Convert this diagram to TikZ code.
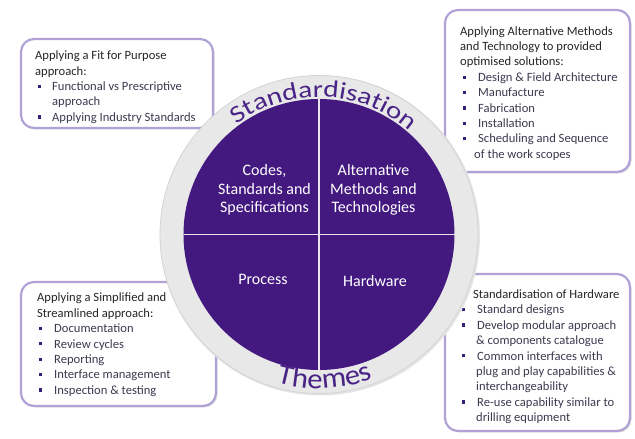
\documentclass[tikz,border=0pt]{standalone}
\usepackage{fontspec}
\setmainfont{Carlito}
\newfontfamily\arcfontA[FakeStretch=1.22]{Carlito}
\newfontfamily\arcfontB[FakeStretch=1.08]{Carlito}
\usetikzlibrary{decorations.text}
\definecolor{purp}{HTML}{43187F}
\definecolor{arctext}{HTML}{4A2386}
\definecolor{ringgray}{HTML}{E8E8E8}
\definecolor{ringedge}{HTML}{D4D4D4}
\definecolor{boxedge}{HTML}{B0A2D6}
\definecolor{headc}{HTML}{262626}
\definecolor{itemc}{HTML}{3B3B50}
\definecolor{bulc}{HTML}{3A1F7A}
\newcommand\bl[2]{\hspace*{#1}\makebox[#2][l]{\textcolor{bulc}{\rule[2.6pt]{3.2pt}{3.2pt}}}}
\begin{document}
\begin{tikzpicture}[x=1pt,y=1pt,
  infobox/.style={draw=boxedge, line width=2.2pt, rounded corners=13pt, fill=white},
  boxshadow/.style={fill=black!30, rounded corners=13pt, opacity=0.45},
  boxtext/.style={anchor=north west, inner sep=0pt, align=left, font=\fontsize{12.6}{15.4}\selectfont, text=itemc},
  themetext/.style={align=center, text=white, font=\fontsize{16}{18.3}\selectfont, inner sep=0pt},
  arcdeco/.style={decorate, decoration={text along path, text align=center, text color=arctext, text={#1}}}
]
\useasboundingbox (0,0) rectangle (635,439);
\fill[white] (0,0) rectangle (635,439);

% boxes
\fill[boxshadow] (22.5,309.5) rectangle (214.5,398.5);
\draw[infobox] (21,311) rectangle (213,400);
\fill[boxshadow] (446.5,265.5) rectangle (631.5,427.5);
\draw[infobox] (445,267) rectangle (630,429);
\fill[boxshadow] (22.5,31.5) rectangle (217.5,155.5);
\draw[infobox] (21,33) rectangle (216,157);
\fill[boxshadow] (446.5,6.5) rectangle (631.5,163.5);
\draw[infobox] (445,8) rectangle (630,165);

\node[boxtext] (tltext) at (35,389.5) {\rule{0pt}{10pt}\textcolor{headc}{Applying a Fit for Purpose}\\
\textcolor{headc}{approach:}\\
\bl{3pt}{14pt}Functional vs Prescriptive\\
\hspace*{17pt}approach\\
\bl{3pt}{14pt}Applying Industry Standards};

\node[boxtext] (trtext) at (460,414) {\rule{0pt}{10pt}\textcolor{headc}{Applying Alternative Methods}\\
\textcolor{headc}{and Technology to provided}\\
\textcolor{headc}{optimised solutions:}\\
\bl{3pt}{15pt}Design \& Field Architecture\\
\bl{3pt}{15pt}Manufacture\\
\bl{3pt}{15pt}Fabrication\\
\bl{3pt}{15pt}Installation\\
\bl{3pt}{15pt}Scheduling and Sequence\\
\hspace*{14pt}of the work scopes};

\node[boxtext] (bltext) at (37,147.3) {\rule{0pt}{10pt}\textcolor{headc}{Applying a Simplified and}\\
\textcolor{headc}{Streamlined approach:}\\
\bl{2pt}{15pt}Documentation\\
\bl{2pt}{15pt}Review cycles\\
\bl{2pt}{15pt}Reporting\\
\bl{2pt}{15pt}Interface management\\
\bl{2pt}{15pt}Inspection \& testing};

\node[boxtext] (brtext) at (462,150.7) {\rule{0pt}{10pt}\hspace*{11pt}\textcolor{headc}{Standardisation of Hardware}\\
\bl{0pt}{15pt}Standard designs\\
\bl{0pt}{15pt}Develop modular approach\\
\hspace*{14pt}\& components catalogue\\
\bl{0pt}{15pt}Common interfaces with\\
\hspace*{14pt}plug and play capabilities \&\\
\hspace*{14pt}interchangeability\\
\bl{0pt}{15pt}Re-use capability similar to\\
\hspace*{14pt}drilling equipment};

% circle
\coordinate (c) at (319,204.5);
\fill[black!10] (c) ++(1,-1) circle[radius=160];
\draw[ringedge, fill=ringgray, line width=0.8pt] (c) circle[radius=159];
\fill[purp] (c) circle[radius=135.5];
\draw[white!88!purp, line width=1.8pt] (c) ++(0,135.5) -- ++(0,-271);
\draw[white!88!purp, line width=1.8pt] (c) ++(-135.5,0) -- ++(271,0);

\node[themetext] (codes) at (264.5,249) {Codes,\\Standards and\\Specifications};
\node[themetext] (alt) at (373.5,249) {Alternative\\Methods and\\Technologies};
\node[themetext] (proc) at (263,160) {Process};
\node[themetext] (hard) at (375,158) {Hardware};

\path[arcdeco={|\arcfontA\fontsize{24}{24}\selectfont|Standardisation}] (c) ++(137.8:137.5) arc[start angle=137.8, end angle=37.8, radius=137.5];
\path[arcdeco={|\arcfontB\fontsize{28.5}{28.5}\selectfont|Themes}] (c) ++(232.3:154) arc[start angle=232.3, end angle=312.3, radius=154];
\end{tikzpicture}
\end{document}
